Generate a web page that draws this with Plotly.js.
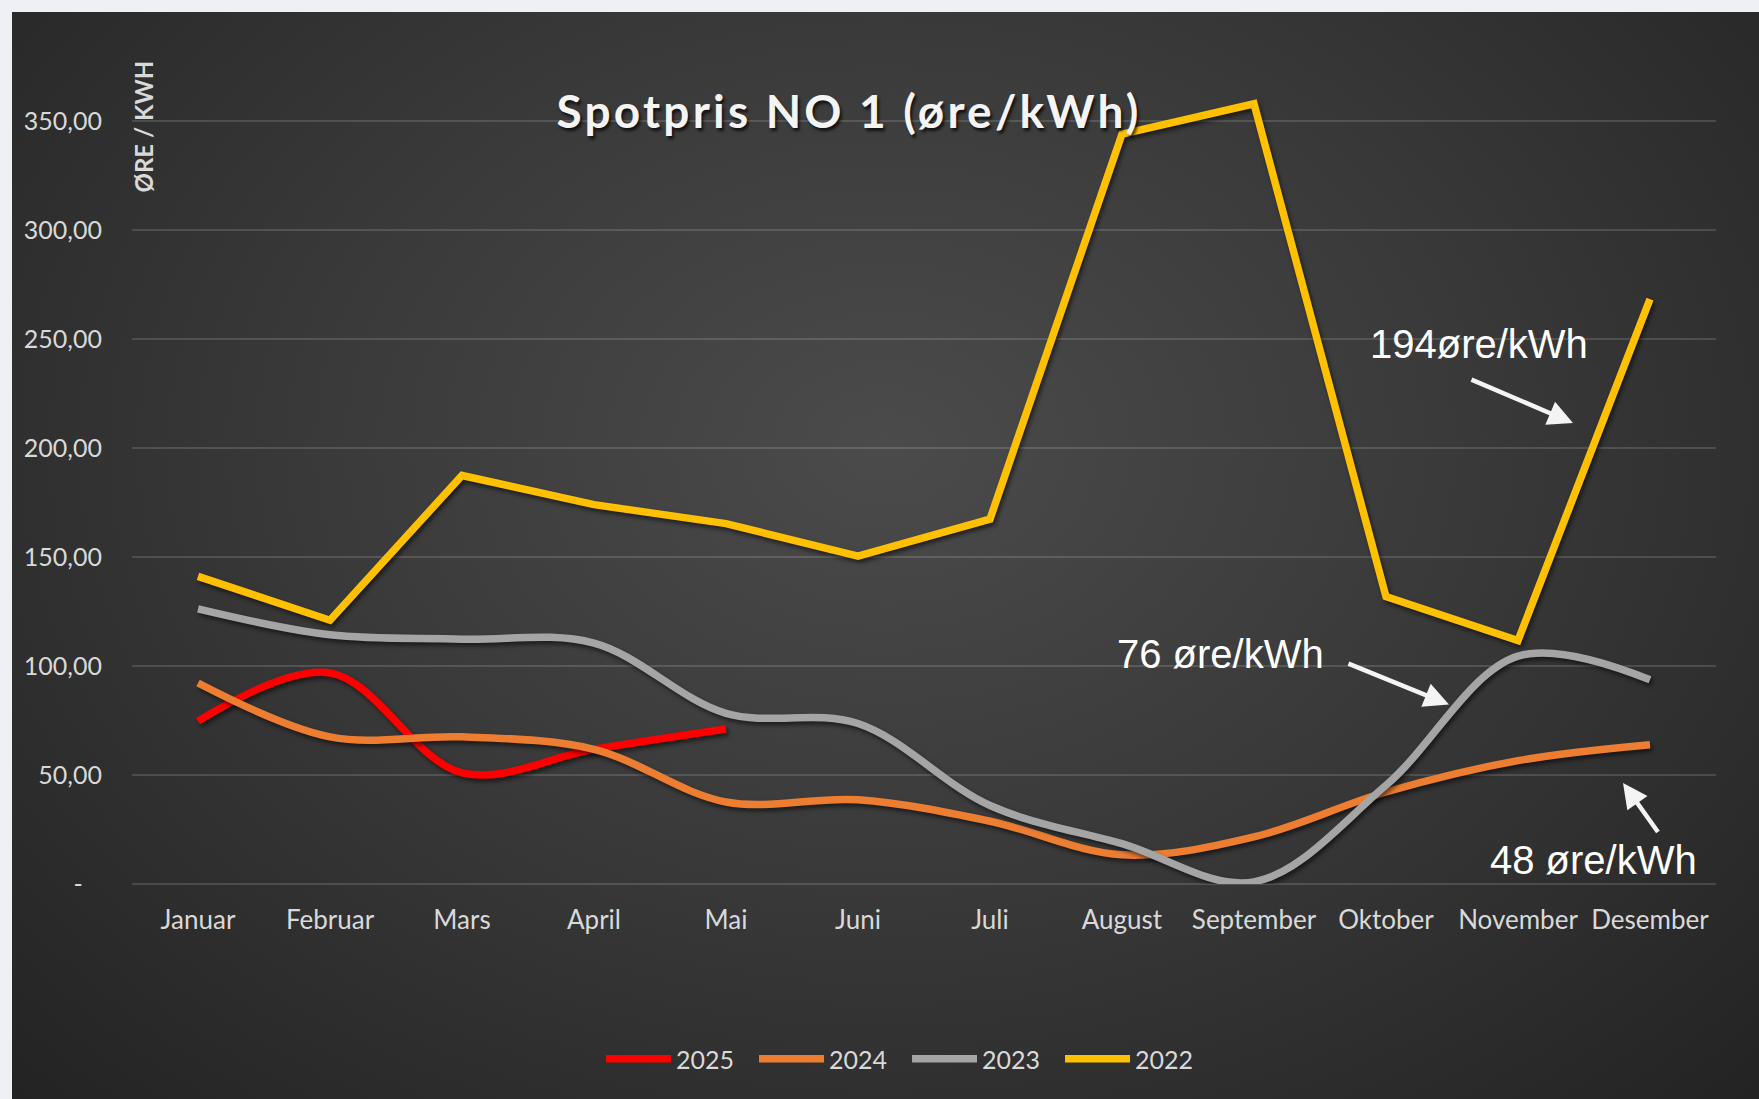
<!DOCTYPE html>
<html>
<head>
<meta charset="utf-8">
<script src="https://cdn.plot.ly/plotly-3.0.1.min.js"></script>
<style>
  html, body { margin:0; padding:0; width:1759px; height:1099px; overflow:hidden; background:#eef0f5; }
  #bg { position:absolute; left:12px; top:12px; width:1747px; height:1087px;
        background: radial-gradient(ellipse farthest-corner at 50% 40%, #4b4b4b 0%, #3a3a3a 45%, #232323 100%); }
  #chart { position:absolute; left:0; top:0; width:1759px; height:1099px; }
  #chart .scatterlayer path.js-line { filter: drop-shadow(2px 3px 2px rgba(0,0,0,0.55)); }
  #chart .gtitle { letter-spacing: 3.2px; }
</style>
</head>
<body>
<div id="bg"></div>
<div id="chart"></div>
<script>
// ---- data ----
const months = ["Januar","Februar","Mars","April","Mai","Juni","Juli","August","September","Oktober","November","Desember"];
const seriesNames = ["2025","2024","2023","2022"];
const values2025 = [74.7, 96.8, 51.0, 61.8, 71.1];
const values2024 = [92.2, 67.5, 67.5, 61.8, 37.6, 38.6, 28.8, 13.4, 21.6, 42.2, 56.6, 63.9];
const values2023 = [126.2, 114.3, 112.3, 110.5, 78.3, 73.6, 36.0, 18.5, 1.0, 45.3, 104.5, 93.7];
const values2022 = [141.1, 121.0, 187.4, 174.0, 165.3, 150.4, 167.4, 344.0, 357.9, 131.8, 111.7, 268.3];
const yTickVals = [0, 50, 100, 150, 200, 250, 300, 350];
const yTickText = ["-\u00a0\u00a0\u00a0", "50,00", "100,00", "150,00", "200,00", "250,00", "300,00", "350,00"];
const titleText = "Spotpris NO 1 (øre/kWh)";
const yAxisLabel = "ØRE / KWH";
const noteTexts = ["194øre/kWh", "76 øre/kWh", "48 øre/kWh"];

// ---- styles ----
const colors = ["#ff0000", "#ed7d31", "#a5a5a5", "#ffc000"];
const shapes = ["spline", "spline", "spline", "linear"];
const allValues = [values2025, values2024, values2023, values2022];

const traces = seriesNames.map((name, i) => ({
  type: "scatter",
  mode: "lines",
  name: name,
  x: months.slice(0, allValues[i].length),
  y: allValues[i],
  line: { color: colors[i], width: 7.5, shape: shapes[i], smoothing: 1 },
  hoverinfo: "skip"
}));

const tickFont = { family: "Lato, 'Open Sans', sans-serif", size: 25, color: "#d9d9d9" };
const xTickFont = { family: "Lato, 'Open Sans', sans-serif", size: 26, color: "#d9d9d9" };
const noteFont = { family: "'Liberation Sans', Arial, sans-serif", size: 40, color: "#ffffff" };

const annotations = [
  { xref: "paper", yref: "paper", x: 0.00726, y: 0.8693, text: "<b>" + yAxisLabel + "</b>", textangle: -90,
    showarrow: false, xanchor: "center", yanchor: "middle",
    font: { family: "Lato, sans-serif", size: 24, color: "#d9d9d9" } },
  { xref: "paper", yref: "paper", x: 0.8504, y: 0.6193, text: noteTexts[0], showarrow: false,
    xanchor: "center", yanchor: "middle", font: noteFont },
  { xref: "paper", yref: "paper", x: 0.6869, y: 0.2638, text: noteTexts[1], showarrow: false,
    xanchor: "center", yanchor: "middle", font: noteFont },
  { xref: "paper", yref: "paper", x: 0.9227, y: 0.0275, text: noteTexts[2], showarrow: false,
    xanchor: "center", yanchor: "middle", font: noteFont },
  { xref: "paper", yref: "paper", x: 0.9097, y: 0.5287, ax: -103, ay: -44, text: "", showarrow: true,
    arrowhead: 2, arrowsize: 1.1, arrowwidth: 4.5, arrowcolor: "#f4f4f4", standoff: 0 },
  { xref: "paper", yref: "paper", x: 0.8314, y: 0.2058, ax: -102, ay: -41.5, text: "", showarrow: true,
    arrowhead: 2, arrowsize: 1.1, arrowwidth: 4.5, arrowcolor: "#f4f4f4", standoff: 0 },
  { xref: "paper", yref: "paper", x: 0.9413, y: 0.1158, ax: 36, ay: 50.5, text: "", showarrow: true,
    arrowhead: 2, arrowsize: 1.1, arrowwidth: 4.5, arrowcolor: "#f4f4f4", standoff: 0 }
];

const layout = {
  width: 1759,
  height: 1099,
  margin: { l: 132, r: 43, t: 12, b: 215, pad: 0 },
  paper_bgcolor: "rgba(0,0,0,0)",
  plot_bgcolor: "rgba(0,0,0,0)",
  showlegend: true,
  title: {
    text: "<b>" + titleText + "</b>",
    xref: "container", yref: "container",
    x: 0.4827, y: 0.898, xanchor: "center", yanchor: "middle",
    font: { family: "Lato, sans-serif", size: 46, color: "#f4f4f4", shadow: "2px 3px 3px rgba(0,0,0,0.7)" }
  },
  xaxis: {
    type: "category",
    range: [-0.5, 11.5],
    showgrid: false,
    zeroline: false,
    showline: false,
    ticks: "",
    tickfont: xTickFont,
    ticklabelstandoff: 18,
    fixedrange: true
  },
  yaxis: {
    range: [0, 400],
    tickvals: yTickVals,
    ticktext: yTickText,
    showgrid: true,
    gridcolor: "rgba(255,255,255,0.14)",
    gridwidth: 1.5,
    zeroline: true,
    zerolinecolor: "rgba(255,255,255,0.14)",
    zerolinewidth: 1.5,
    showline: false,
    ticks: "",
    tickfont: tickFont,
    ticklabelstandoff: 29,
    fixedrange: true
  },
  legend: {
    orientation: "h",
    x: 0.2961, xanchor: "left",
    y: -0.2007, yanchor: "middle",
    font: tickFont,
    bgcolor: "rgba(0,0,0,0)",
    itemwidth: 65,
    entrywidth: 73,
    traceorder: "normal"
  },
  annotations: annotations
};

Plotly.newPlot("chart", traces, layout, { displayModeBar: false, staticPlot: true });
</script>
</body>
</html>
